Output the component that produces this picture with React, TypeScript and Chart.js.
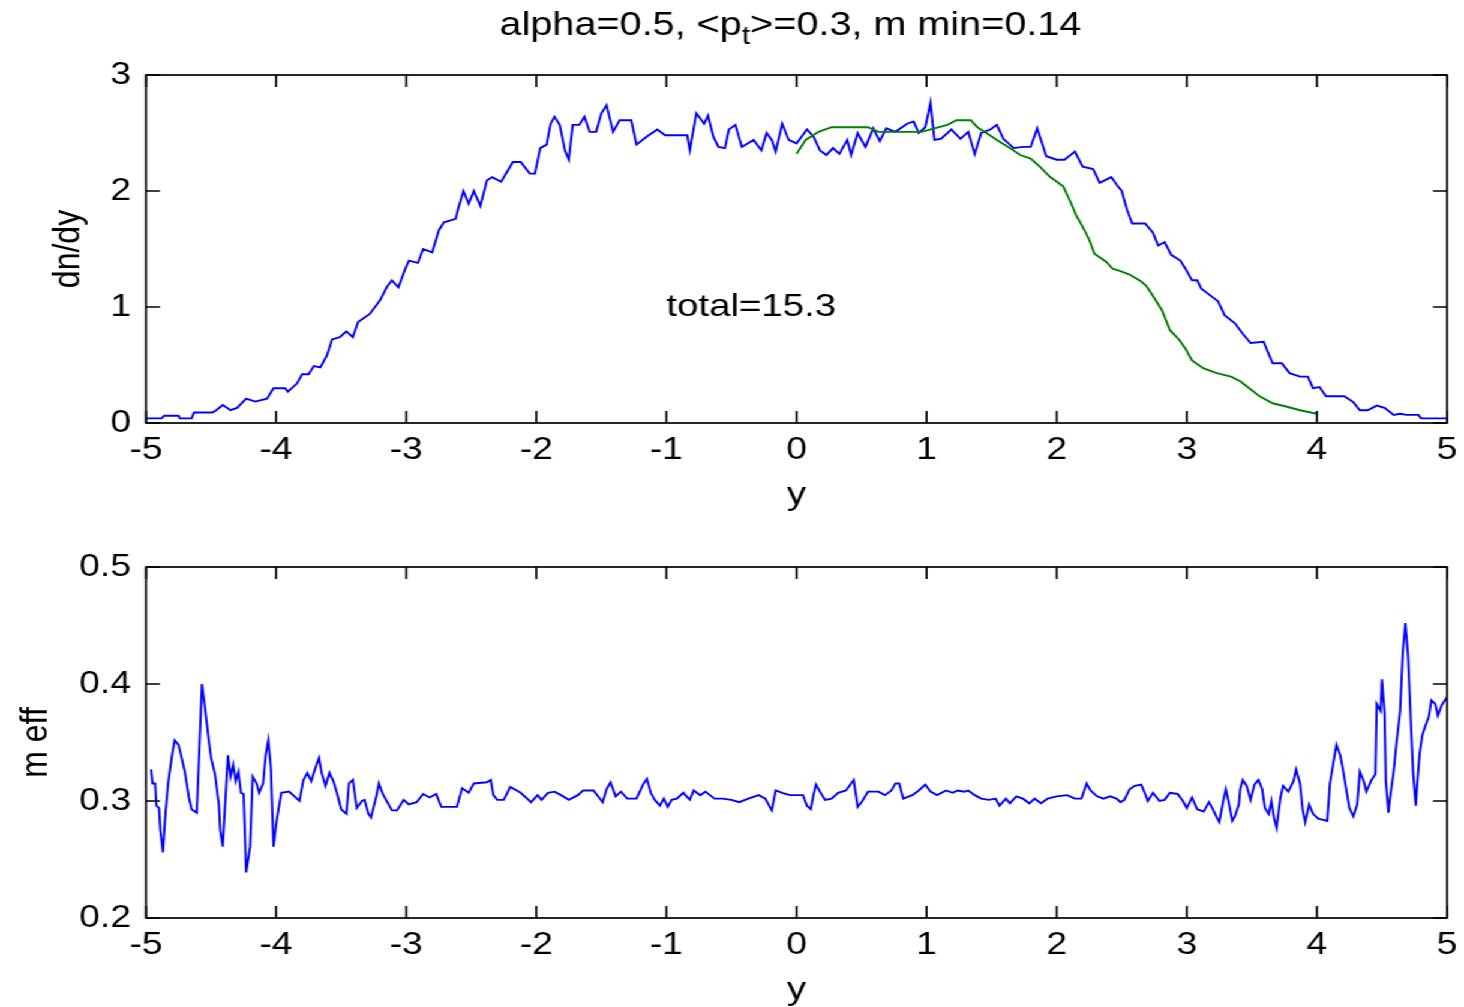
import React, { useEffect, useRef } from "react";
import { Chart, registerables } from "chart.js";

Chart.register(...registerables);

// ---------------- data ----------------
const xTickValues = [-5, -4, -3, -2, -1, 0, 1, 2, 3, 4, 5];
const dndyTickValues = [0, 1, 2, 3];
const meffTickValues = [0.2, 0.3, 0.4, 0.5];

const titleHead = "alpha=0.5, <p";
const titleSub = "t";
const titleTail = ">=0.3, m min=0.14";
const totalLabel = "total=15.3";
const totalAt: [number, number] = [-1, 1];
const xLabel = "y";
const dndyLabel = "dn/dy";
const meffLabel = "m eff";

// dn/dy, blue (x, value)
const dndyBlue: [number, number][] = [
  [-5.0, 0.04], [-4.97, 0.04], [-4.88, 0.04], [-4.86, 0.063], [-4.75, 0.063], [-4.74, 0.04],
  [-4.65, 0.04], [-4.63, 0.09], [-4.49, 0.09], [-4.46, 0.11], [-4.41, 0.155], [-4.35, 0.11],
  [-4.3, 0.13], [-4.23, 0.21], [-4.16, 0.185], [-4.07, 0.21], [-4.02, 0.3], [-3.93, 0.3],
  [-3.91, 0.27], [-3.84, 0.34], [-3.8, 0.42], [-3.75, 0.42], [-3.71, 0.49], [-3.66, 0.48],
  [-3.61, 0.58], [-3.57, 0.72], [-3.51, 0.74], [-3.46, 0.79], [-3.41, 0.74], [-3.37, 0.87],
  [-3.28, 0.94], [-3.2, 1.06], [-3.15, 1.17], [-3.11, 1.23], [-3.06, 1.17], [-3.01, 1.32],
  [-2.98, 1.4], [-2.91, 1.38], [-2.87, 1.5], [-2.8, 1.47], [-2.75, 1.66], [-2.71, 1.73],
  [-2.62, 1.76], [-2.6, 1.85], [-2.56, 2.0], [-2.52, 1.89], [-2.48, 2.0], [-2.43, 1.87],
  [-2.38, 2.09], [-2.34, 2.12], [-2.27, 2.08], [-2.18, 2.25], [-2.12, 2.25], [-2.05, 2.15],
  [-2.01, 2.15], [-1.97, 2.37], [-1.92, 2.4], [-1.89, 2.58], [-1.86, 2.64], [-1.82, 2.57],
  [-1.78, 2.35], [-1.75, 2.27], [-1.72, 2.57], [-1.67, 2.57], [-1.63, 2.64], [-1.59, 2.51],
  [-1.54, 2.51], [-1.5, 2.67], [-1.46, 2.74], [-1.41, 2.51], [-1.36, 2.61], [-1.27, 2.61],
  [-1.23, 2.4], [-1.15, 2.47], [-1.07, 2.53], [-1.01, 2.48], [-0.84, 2.48], [-0.82, 2.35],
  [-0.77, 2.67], [-0.71, 2.58], [-0.68, 2.65], [-0.64, 2.47], [-0.6, 2.38], [-0.55, 2.37],
  [-0.52, 2.53], [-0.47, 2.57], [-0.42, 2.38], [-0.33, 2.44], [-0.27, 2.35], [-0.23, 2.5],
  [-0.19, 2.44], [-0.16, 2.34], [-0.11, 2.58], [-0.06, 2.44], [0.0, 2.41], [0.08, 2.53],
  [0.13, 2.47], [0.18, 2.35], [0.23, 2.31], [0.28, 2.37], [0.33, 2.32], [0.39, 2.44],
  [0.42, 2.31], [0.47, 2.5], [0.53, 2.38], [0.59, 2.54], [0.64, 2.43], [0.69, 2.54],
  [0.76, 2.51], [0.85, 2.58], [0.9, 2.6], [0.94, 2.5], [0.99, 2.55], [1.03, 2.76],
  [1.06, 2.44], [1.11, 2.45], [1.19, 2.53], [1.26, 2.45], [1.32, 2.51], [1.37, 2.32],
  [1.42, 2.5], [1.49, 2.53], [1.54, 2.57], [1.59, 2.45], [1.67, 2.37], [1.74, 2.38],
  [1.8, 2.38], [1.85, 2.54], [1.92, 2.3], [2.0, 2.27], [2.06, 2.27], [2.14, 2.34],
  [2.2, 2.21], [2.28, 2.19], [2.33, 2.07], [2.42, 2.12], [2.47, 2.04], [2.5, 2.0],
  [2.54, 1.84], [2.58, 1.72], [2.68, 1.72], [2.74, 1.64], [2.78, 1.53], [2.83, 1.56],
  [2.88, 1.45], [2.95, 1.4], [2.99, 1.33], [3.04, 1.23], [3.08, 1.23], [3.11, 1.16],
  [3.18, 1.1], [3.24, 1.05], [3.29, 0.93], [3.37, 0.86], [3.43, 0.77], [3.49, 0.69],
  [3.59, 0.7], [3.66, 0.515], [3.73, 0.515], [3.79, 0.43], [3.87, 0.4], [3.93, 0.4],
  [3.97, 0.3], [4.02, 0.31], [4.07, 0.23], [4.21, 0.23], [4.28, 0.18], [4.33, 0.11],
  [4.39, 0.11], [4.46, 0.15], [4.52, 0.13], [4.59, 0.07], [4.64, 0.08], [4.69, 0.07],
  [4.78, 0.07], [4.8, 0.04], [5.0, 0.04],
];

// dn/dy, green (x, value)
const dndyGreen: [number, number][] = [
  [0.0, 2.32], [0.07, 2.44], [0.17, 2.51], [0.27, 2.55], [0.55, 2.55], [0.63, 2.51],
  [0.96, 2.51], [1.06, 2.54], [1.16, 2.57], [1.23, 2.61], [1.34, 2.61], [1.39, 2.55],
  [1.46, 2.5], [1.54, 2.44], [1.64, 2.37], [1.72, 2.31], [1.8, 2.28], [1.87, 2.21],
  [1.95, 2.12], [2.05, 2.04], [2.1, 1.92], [2.15, 1.79], [2.2, 1.69], [2.25, 1.58],
  [2.29, 1.46], [2.38, 1.39], [2.43, 1.33], [2.49, 1.31], [2.56, 1.28], [2.65, 1.22],
  [2.69, 1.18], [2.76, 1.06], [2.81, 0.97], [2.87, 0.8], [2.94, 0.72], [2.99, 0.64],
  [3.04, 0.54], [3.13, 0.47], [3.23, 0.43], [3.34, 0.4], [3.41, 0.36], [3.48, 0.3],
  [3.56, 0.23], [3.66, 0.17], [3.77, 0.14], [3.87, 0.11], [4.0, 0.08],
];

// m eff, blue (x, value)
const meffBlue: [number, number][] = [
  [-4.96, 0.327], [-4.95, 0.315], [-4.93, 0.315], [-4.92, 0.296], [-4.9, 0.294], [-4.89, 0.275],
  [-4.88, 0.266], [-4.87, 0.256], [-4.85, 0.29], [-4.83, 0.315], [-4.8, 0.339], [-4.78, 0.352],
  [-4.75, 0.348], [-4.73, 0.339], [-4.7, 0.324], [-4.67, 0.303], [-4.65, 0.293], [-4.61, 0.29],
  [-4.6, 0.317], [-4.58, 0.372], [-4.57, 0.4], [-4.55, 0.383], [-4.52, 0.354], [-4.5, 0.337],
  [-4.47, 0.323], [-4.44, 0.297], [-4.43, 0.275], [-4.41, 0.261], [-4.38, 0.32], [-4.37, 0.339],
  [-4.35, 0.321], [-4.33, 0.331], [-4.31, 0.317], [-4.29, 0.325], [-4.27, 0.307], [-4.25, 0.306],
  [-4.23, 0.239], [-4.2, 0.261], [-4.18, 0.321], [-4.15, 0.315], [-4.13, 0.307], [-4.1, 0.315],
  [-4.08, 0.339], [-4.06, 0.352], [-4.04, 0.328], [-4.02, 0.261], [-4.0, 0.28], [-3.98, 0.294],
  [-3.96, 0.307], [-3.9, 0.308], [-3.82, 0.3], [-3.79, 0.318], [-3.76, 0.324], [-3.73, 0.317],
  [-3.69, 0.331], [-3.67, 0.337], [-3.65, 0.324], [-3.62, 0.313], [-3.59, 0.324], [-3.56, 0.317],
  [-3.53, 0.306], [-3.5, 0.293], [-3.46, 0.289], [-3.44, 0.315], [-3.41, 0.318], [-3.38, 0.294],
  [-3.34, 0.3], [-3.32, 0.301], [-3.29, 0.289], [-3.27, 0.286], [-3.23, 0.304], [-3.21, 0.315],
  [-3.18, 0.306], [-3.11, 0.292], [-3.07, 0.292], [-3.02, 0.301], [-2.98, 0.297], [-2.92, 0.299],
  [-2.87, 0.306], [-2.82, 0.303], [-2.77, 0.306], [-2.73, 0.295], [-2.61, 0.295], [-2.57, 0.311],
  [-2.52, 0.307], [-2.48, 0.315], [-2.38, 0.316], [-2.35, 0.318], [-2.33, 0.305], [-2.3, 0.301],
  [-2.25, 0.301], [-2.2, 0.312], [-2.12, 0.307], [-2.04, 0.299], [-1.99, 0.305], [-1.96, 0.301],
  [-1.91, 0.307], [-1.86, 0.308], [-1.81, 0.305], [-1.75, 0.301], [-1.68, 0.305], [-1.64, 0.309],
  [-1.56, 0.309], [-1.49, 0.299], [-1.46, 0.31], [-1.43, 0.316], [-1.39, 0.304], [-1.35, 0.308],
  [-1.3, 0.302], [-1.23, 0.302], [-1.18, 0.314], [-1.15, 0.319], [-1.12, 0.307], [-1.09, 0.301],
  [-1.05, 0.296], [-1.02, 0.302], [-0.99, 0.295], [-0.96, 0.301], [-0.92, 0.302], [-0.87, 0.307],
  [-0.82, 0.301], [-0.79, 0.309], [-0.74, 0.305], [-0.7, 0.308], [-0.63, 0.302], [-0.57, 0.302],
  [-0.5, 0.301], [-0.44, 0.299], [-0.37, 0.302], [-0.29, 0.305], [-0.24, 0.302], [-0.19, 0.292],
  [-0.16, 0.309], [-0.11, 0.307], [-0.05, 0.305], [0.05, 0.305], [0.08, 0.296], [0.11, 0.293],
  [0.13, 0.305], [0.15, 0.314], [0.18, 0.308], [0.22, 0.301], [0.27, 0.302], [0.32, 0.307],
  [0.38, 0.309], [0.42, 0.315], [0.44, 0.318], [0.47, 0.295], [0.5, 0.299], [0.55, 0.308],
  [0.63, 0.308], [0.68, 0.305], [0.73, 0.309], [0.76, 0.315], [0.79, 0.315], [0.82, 0.302],
  [0.89, 0.305], [0.94, 0.309], [0.99, 0.314], [1.03, 0.308], [1.08, 0.305], [1.15, 0.309],
  [1.2, 0.307], [1.24, 0.309], [1.29, 0.308], [1.32, 0.309], [1.37, 0.305], [1.42, 0.302],
  [1.48, 0.301], [1.53, 0.302], [1.56, 0.296], [1.61, 0.302], [1.64, 0.298], [1.69, 0.304],
  [1.74, 0.302], [1.79, 0.298], [1.83, 0.302], [1.88, 0.298], [1.93, 0.302], [2.0, 0.304],
  [2.08, 0.305], [2.14, 0.302], [2.19, 0.302], [2.23, 0.315], [2.26, 0.309], [2.31, 0.304],
  [2.36, 0.302], [2.41, 0.304], [2.46, 0.302], [2.49, 0.299], [2.52, 0.301], [2.56, 0.31],
  [2.6, 0.313], [2.65, 0.314], [2.68, 0.306], [2.7, 0.3], [2.74, 0.307], [2.79, 0.3],
  [2.83, 0.301], [2.87, 0.307], [2.93, 0.306], [2.97, 0.3], [3.0, 0.294], [3.04, 0.303],
  [3.08, 0.293], [3.13, 0.291], [3.17, 0.299], [3.2, 0.293], [3.23, 0.286], [3.25, 0.282],
  [3.28, 0.3], [3.3, 0.31], [3.32, 0.3], [3.35, 0.283], [3.37, 0.287], [3.4, 0.297],
  [3.41, 0.31], [3.43, 0.318], [3.46, 0.313], [3.49, 0.301], [3.52, 0.314], [3.55, 0.318],
  [3.58, 0.31], [3.6, 0.294], [3.63, 0.289], [3.65, 0.3], [3.67, 0.286], [3.69, 0.277],
  [3.72, 0.303], [3.74, 0.313], [3.78, 0.308], [3.82, 0.317], [3.84, 0.327], [3.87, 0.315],
  [3.89, 0.293], [3.91, 0.282], [3.94, 0.297], [3.97, 0.289], [4.01, 0.285], [4.08, 0.283],
  [4.1, 0.315], [4.13, 0.335], [4.15, 0.348], [4.18, 0.339], [4.2, 0.327], [4.23, 0.307],
  [4.25, 0.294], [4.28, 0.287], [4.31, 0.297], [4.33, 0.325], [4.36, 0.317], [4.38, 0.308],
  [4.42, 0.318], [4.45, 0.323], [4.46, 0.383], [4.49, 0.377], [4.5, 0.404], [4.52, 0.375],
  [4.53, 0.317], [4.55, 0.29], [4.56, 0.301], [4.59, 0.325], [4.61, 0.348], [4.64, 0.377],
  [4.66, 0.427], [4.68, 0.452], [4.7, 0.425], [4.72, 0.373], [4.74, 0.323], [4.76, 0.296],
  [4.77, 0.313], [4.79, 0.341], [4.81, 0.356], [4.83, 0.363], [4.86, 0.372], [4.88, 0.386],
  [4.91, 0.383], [4.93, 0.373], [4.96, 0.382], [5.0, 0.389],
];

// ---------------- layout / style ----------------
const FONT = '"Liberation Sans", Arial, Helvetica, sans-serif';
const TEXT = "#000";
const STRETCH = 1.2; // the reference figure is stretched horizontally
const W = 1464 / STRETCH;
const TOP_H = 530;
const BOT_H = 477;
const AXIS_W = 146 / STRETCH;
const PAD_RIGHT = (1464 - 1447) / STRETCH;
const X_AXIS_H = 88;
const X_TICK_LEN = 12;
const Y_TICK_LEN = 14 / STRETCH;
const TICK_SIZE = 31;
const LABEL_SIZE = 32;
const TITLE_SIZE = 33;
const TITLE_SHIFT = -5;
const LINE_W = 1.9;

const framePlugin = {
  id: "matlabFrame",
  afterDraw(chart: any) {
    const { ctx, chartArea: a, scales } = chart;
    const xs = scales.x;
    const ys = scales.y;
    ctx.save();
    ctx.strokeStyle = "#000";
    ctx.lineWidth = 1.7;
    ctx.strokeRect(a.left, a.top, a.right - a.left, a.bottom - a.top);
    ctx.beginPath();
    xs.ticks.forEach((t: any) => {
      const px = xs.getPixelForValue(t.value);
      ctx.moveTo(px, a.bottom);
      ctx.lineTo(px, a.bottom - X_TICK_LEN);
      ctx.moveTo(px, a.top);
      ctx.lineTo(px, a.top + X_TICK_LEN);
    });
    ys.ticks.forEach((t: any) => {
      const py = ys.getPixelForValue(t.value);
      ctx.moveTo(a.left, py);
      ctx.lineTo(a.left + Y_TICK_LEN, py);
      ctx.moveTo(a.right, py);
      ctx.lineTo(a.right - Y_TICK_LEN, py);
    });
    ctx.stroke();
    ctx.restore();
  },
};

const topTextPlugin = {
  id: "topText",
  afterDraw(chart: any) {
    const { ctx, chartArea: a, scales } = chart;
    ctx.save();
    ctx.fillStyle = TEXT;
    ctx.textAlign = "left";
    ctx.textBaseline = "alphabetic";
    const big = `${TITLE_SIZE}px ${FONT}`;
    const small = `25px ${FONT}`;
    ctx.font = big;
    const w1 = ctx.measureText(titleHead).width;
    const w3 = ctx.measureText(titleTail).width;
    ctx.font = small;
    const w2 = ctx.measureText(titleSub).width;
    let x = (a.left + a.right) / 2 - (w1 + w2 + w3) / 2 + TITLE_SHIFT;
    const base = 35;
    ctx.font = big;
    ctx.fillText(titleHead, x, base);
    x += w1;
    ctx.font = small;
    ctx.fillText(titleSub, x, base + 9);
    x += w2;
    ctx.font = big;
    ctx.fillText(titleTail, x, base);
    ctx.font = `${LABEL_SIZE}px ${FONT}`;
    ctx.textBaseline = "middle";
    ctx.fillText(
      totalLabel,
      scales.x.getPixelForValue(totalAt[0]),
      scales.y.getPixelForValue(totalAt[1])
    );
    ctx.restore();
  },
};

function makeConfig(opts: {
  datasets: any[];
  yMin: number;
  yMax: number;
  yTicks: number[];
  yFmt: (v: number) => string;
  yTitle: string;
  yTitlePad: number;
  padTop: number;
  padBottom: number;
  extra: any[];
}): any {
  return {
    type: "line",
    data: { datasets: opts.datasets },
    options: {
      animation: false,
      responsive: false,
      maintainAspectRatio: false,
      layout: { padding: { top: opts.padTop, bottom: opts.padBottom, left: 0, right: PAD_RIGHT } },
      plugins: {
        legend: { display: false },
        tooltip: { enabled: false },
        title: { display: false },
      },
      elements: { point: { radius: 0 }, line: { tension: 0 } },
      scales: {
        x: {
          type: "linear",
          min: -5,
          max: 5,
          afterBuildTicks: (s: any) => {
            s.ticks = xTickValues.map((v) => ({ value: v }));
          },
          afterFit: (s: any) => {
            s.height = X_AXIS_H;
          },
          grid: { display: false, drawTicks: true, tickLength: 8.5 },
          border: { display: false },
          ticks: {
            color: TEXT,
            font: { family: FONT, size: TICK_SIZE },
            padding: 0,
            maxRotation: 0,
            minRotation: 0,
            autoSkip: false,
            callback: (v: number) => String(v),
          },
          title: {
            display: true,
            text: xLabel,
            color: TEXT,
            font: { family: FONT, size: LABEL_SIZE, lineHeight: 1 },
            padding: { top: 0, bottom: 0 },
          },
        },
        y: {
          type: "linear",
          min: opts.yMin,
          max: opts.yMax,
          afterBuildTicks: (s: any) => {
            s.ticks = opts.yTicks.map((v) => ({ value: v }));
          },
          afterFit: (s: any) => {
            s.width = AXIS_W;
          },
          grid: { display: false, drawTicks: false },
          border: { display: false },
          ticks: {
            color: TEXT,
            font: { family: FONT, size: TICK_SIZE },
            padding: 12.5,
            autoSkip: false,
            callback: (v: number) => opts.yFmt(Number(v)),
          },
          title: {
            display: true,
            text: opts.yTitle,
            color: TEXT,
            font: { family: FONT, size: LABEL_SIZE },
            padding: { top: opts.yTitlePad, bottom: 0 },
          },
        },
      },
    },
    plugins: [framePlugin, ...opts.extra],
  };
}

const toPoints = (arr: [number, number][]) => arr.map(([x, y]) => ({ x, y }));

export default function App() {
  const topRef = useRef<HTMLCanvasElement>(null);
  const botRef = useRef<HTMLCanvasElement>(null);

  useEffect(() => {
    const top = new Chart(
      topRef.current as HTMLCanvasElement,
      makeConfig({
        datasets: [
          {
            data: toPoints(dndyBlue),
            borderColor: "#0000ff",
            borderWidth: LINE_W,
            fill: false,
            order: 1,
          },
          {
            data: toPoints(dndyGreen),
            borderColor: "#008000",
            borderWidth: LINE_W,
            fill: false,
            order: 0,
          },
        ],
        yMin: 0,
        yMax: 3,
        yTicks: dndyTickValues,
        yFmt: (v) => String(v),
        yTitle: dndyLabel,
        yTitlePad: 38,
        padTop: 75,
        padBottom: TOP_H - 423 - X_AXIS_H,
        extra: [topTextPlugin],
      })
    );
    const bot = new Chart(
      botRef.current as HTMLCanvasElement,
      makeConfig({
        datasets: [
          {
            data: toPoints(meffBlue),
            borderColor: "#0000ff",
            borderWidth: LINE_W,
            fill: false,
          },
        ],
        yMin: 0.2,
        yMax: 0.5,
        yTicks: meffTickValues,
        yFmt: (v) => v.toFixed(1),
        yTitle: meffLabel,
        yTitlePad: 10.5,
        padTop: 567 - TOP_H,
        padBottom: BOT_H - (918 - TOP_H) - X_AXIS_H,
        extra: [],
      })
    );
    return () => {
      top.destroy();
      bot.destroy();
    };
  }, []);

  return (
    <div
      style={{
        position: "absolute",
        left: 0,
        top: 0,
        width: W,
        height: TOP_H + BOT_H,
        background: "#fff",
        transform: `scaleX(${STRETCH})`,
        transformOrigin: "0 0",
      }}
    >
      <canvas ref={topRef} width={W} height={TOP_H} style={{ display: "block" }} />
      <canvas ref={botRef} width={W} height={BOT_H} style={{ display: "block" }} />
    </div>
  );
}
